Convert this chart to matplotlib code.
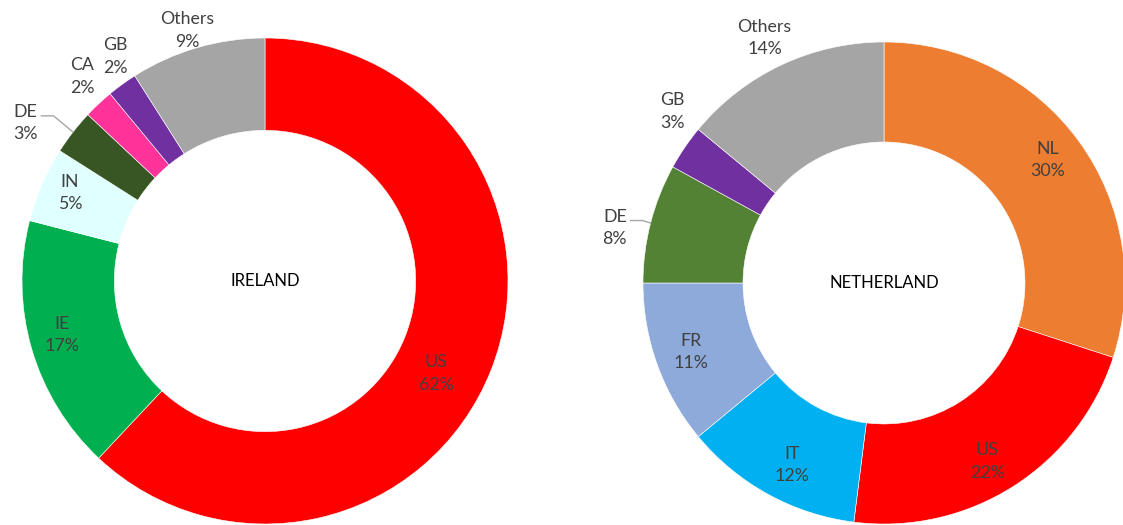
import numpy as np
import matplotlib.pyplot as plt

plt.rcParams['font.family'] = ['Lato', 'DejaVu Sans']

# shares of each country, clockwise from 12 o'clock
ie_labels = ["US", "IE", "IN", "DE", "CA", "GB", "Others"]
ie_values = [62, 17, 5, 3, 2, 2, 9]
ie_colors = ["#ff0000", "#00b050", "#e0ffff", "#375623", "#ff3399", "#7030a0", "#a5a5a5"]

nl_labels = ["NL", "US", "IT", "FR", "DE", "GB", "Others"]
nl_values = [30, 22, 12, 11, 8, 3, 14]
nl_colors = ["#ed7d31", "#ff0000", "#00b0f0", "#8eaadb", "#548235", "#7030a0", "#a5a5a5"]

# label placement: radius (1 = outer edge) and small angle nudges in degrees
ie_lab_r = [0.80, 0.865, 0.88, 1.18, 1.13, 1.11, 1.08]
ie_lab_da = [-6.8, -1.3, -0.9, 4.4, -1.4, -2.3, 1.1]
nl_lab_r = [0.85, 0.855, 0.845, 0.85, 1.14, 1.13, 1.13]
nl_lab_da = [0.9, -2.3, 2.0, -0.1, 2.8, -4.8, 0.8]

W, H = 1123, 525
fig = plt.figure(figsize=(W / 100, H / 100), dpi=100)


def donut(cx, cy, R, hole, labels, values, colors, lab_r, lab_da, title, leader):
    ax = fig.add_axes([(cx - R) / W, (H - cy - R) / H, 2 * R / W, 2 * R / H])
    ax.pie(values, colors=colors, startangle=90, counterclock=False, radius=1,
           wedgeprops=dict(width=1 - hole, edgecolor="white", linewidth=0.4))
    ax.set_xlim(-1, 1)
    ax.set_ylim(-1, 1)
    ax.set_aspect("equal")
    ax.axis("off")

    total = sum(values)
    cum = np.cumsum([0] + values)
    for i, (lab, v) in enumerate(zip(labels, values)):
        mid = 90 - (cum[i] + v / 2) / total * 360
        a = np.radians(mid + lab_da[i])
        x, y = lab_r[i] * np.cos(a), lab_r[i] * np.sin(a)
        ax.text(x, y, f"{lab}\n{v}%", ha="center", va="center", fontsize=12.8,
                color="#404040", linespacing=1.5, clip_on=False)
        if lab == leader:
            m = np.radians(mid)
            ex, ey = 1.0 * np.cos(m), 1.0 * np.sin(m)
            ly = y + 0.03
            ax.plot([x + 0.065, x + 0.115, ex], [ly, ly, ey], color="#a6a6a6",
                    lw=1.0, clip_on=False)
    ax.text(0, 0, title, ha="center", va="center", fontsize=12, color="black")


donut(265, 281, 243, 0.62, ie_labels, ie_values, ie_colors, ie_lab_r, ie_lab_da, "IRELAND", "DE")
donut(884, 283, 241, 0.585, nl_labels, nl_values, nl_colors, nl_lab_r, nl_lab_da, "NETHERLAND", "DE")

fig.savefig("out.png", dpi=100)
